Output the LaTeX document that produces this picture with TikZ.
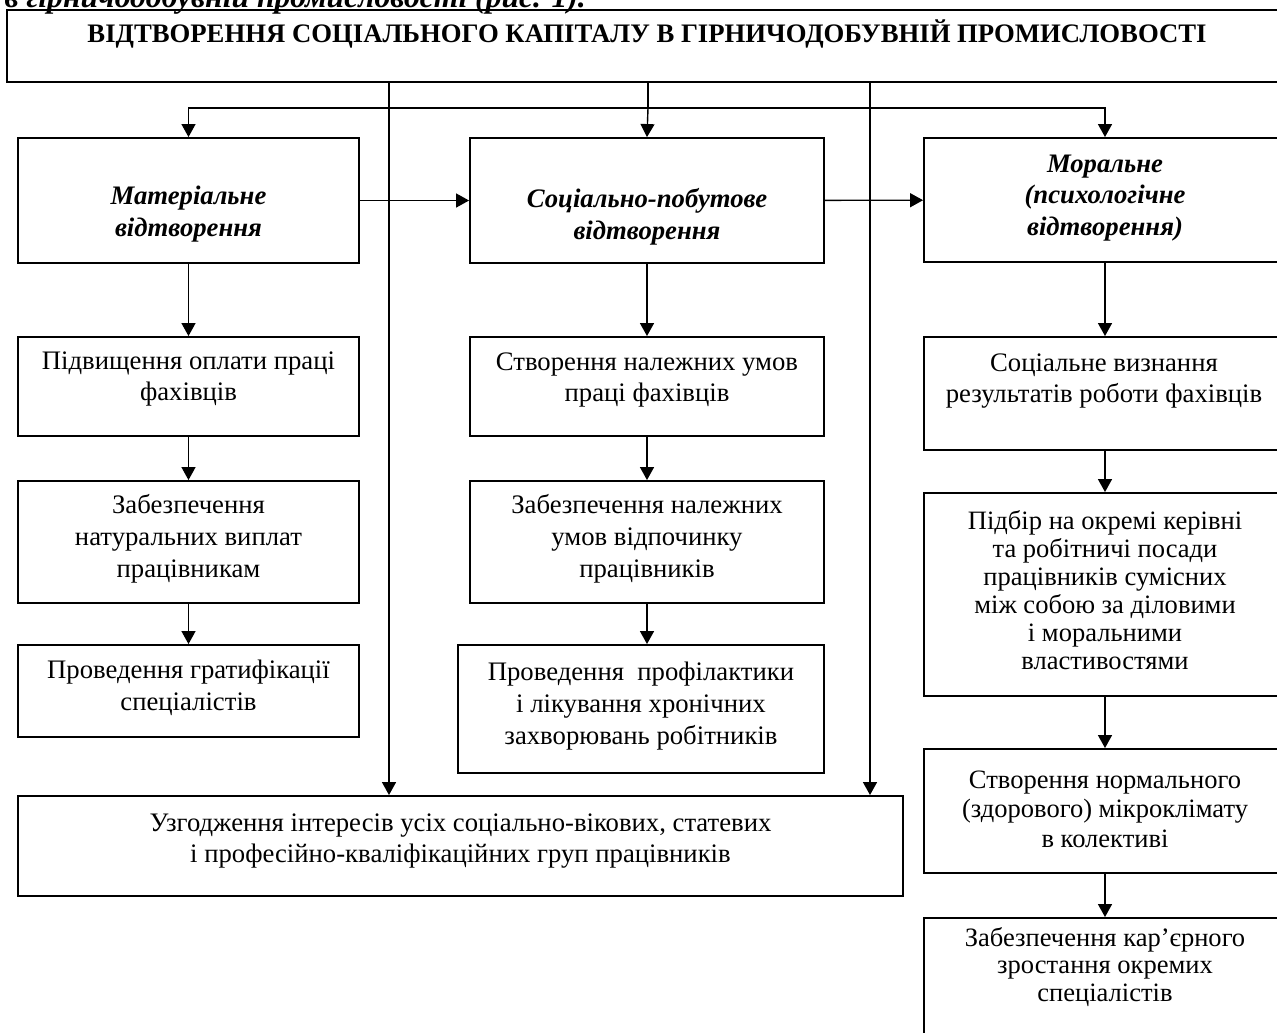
\documentclass[tikz,border=0pt]{standalone}
\usepackage{fontspec}
\setmainfont{Liberation Serif}
\usetikzlibrary{arrows.meta}

\begin{document}
\begin{tikzpicture}[
            x = 0.02cm, y = -0.02cm, % one unit = one pixel of the scan
            > = {Triangle[length=0.26cm,width=0.28cm]}, % arrow head style
            line width = 0.8pt, % connector lines
            box/.style = {shape=rectangle, draw=black, line width=1.1pt, inner sep=0pt},
            txt/.style = {align=center, inner sep=0pt, font=\fontsize{15.2}{18.1}\selectfont},
            head/.style = {align=center, inner sep=0pt, font=\fontsize{15.2}{18.1}\selectfont\bfseries\itshape}
        ]
\useasboundingbox (0,0) rectangle (1277,1032);
\clip (0,0) rectangle (1277,1032);

% caption line cut by the scan
\node[anchor=base west, inner sep=0pt, font=\fontsize{18}{20}\selectfont\bfseries\itshape] (cap) at (4,7) {в гірничодобувній промисловості (рис. 1).};

% top
\node[box, minimum width=25.64cm, minimum height=1.44cm] (top) at (648,46) {};
\node[inner sep=0pt, font=\fontsize{15.2}{18}\selectfont\bfseries] (title) at (647,34) {ВІДТВОРЕННЯ СОЦІАЛЬНОГО КАПІТАЛУ В ГІРНИЧОДОБУВНІЙ ПРОМИСЛОВОСТІ};

% first row
\node[box, minimum width=6.82cm, minimum height=2.5cm] (mat) at (188.5,200.5) {};
\node[head] (matT) at (188.5,214) {Матеріальне\\відтворення};
\node[box, minimum width=7.08cm, minimum height=2.5cm] (soc) at (647,200.5) {};
\node[head] (socT) at (647,217) {Соціально-побутове\\відтворення};
\node[box, minimum width=7.24cm, minimum height=2.48cm] (moral) at (1105,200) {};
\node[head] (moralT) at (1105,198) {Моральне\\(психологічне\\відтворення)};

% left column
\node[box, minimum width=6.82cm, minimum height=1.98cm] (pidv) at (188.5,386.5) {};
\node[txt] (pidvT) at (188.5,379) {Підвищення оплати праці\\фахівців};
\node[box, minimum width=6.82cm, minimum height=2.44cm] (zabnat) at (188.5,542) {};
\node[txt] (zabnatT) at (188.5,539) {Забезпечення\\натуральних виплат\\працівникам};
\node[box, minimum width=6.82cm, minimum height=1.84cm] (grat) at (188.5,691) {};
\node[txt] (gratT) at (188.5,688) {Проведення гратифікації\\спеціалістів};

% middle column
\node[box, minimum width=7.08cm, minimum height=1.98cm] (stvpr) at (647,386.5) {};
\node[txt] (stvprT) at (647,380) {Створення належних умов\\праці фахівців};
\node[box, minimum width=7.08cm, minimum height=2.44cm] (zabvid) at (647,542) {};
\node[txt] (zabvidT) at (647,539) {Забезпечення належних\\умов відпочинку\\працівників};
\node[box, minimum width=7.32cm, minimum height=2.56cm] (prof) at (641,709) {};
\node[txt] (profT) at (641,706) {Проведення~ профілактики\\і лікування хронічних\\захворювань робітників};

% right column
\node[box, minimum width=7.24cm, minimum height=2.26cm] (vyzn) at (1105,393.5) {};
\node[txt] (vyznT) at (1104,381) {Соціальне визнання\\результатів роботи фахівців};
\node[box, minimum width=7.24cm, minimum height=4.06cm] (pidbir) at (1105,594.5) {};
\node[txt, font=\fontsize{15.1}{15.9}\selectfont] (pidbirT) at (1105,590) {Підбір на окремі керівні\\та робітничі посади\\працівників сумісних\\між собою за діловими\\і моральними\\властивостями};
\node[box, minimum width=7.24cm, minimum height=2.48cm] (mikro) at (1105,811) {};
\node[txt, font=\fontsize{15.1}{16.7}\selectfont] (mikroT) at (1105,809) {Створення нормального\\(здорового) мікроклімату\\в колективі};
\node[box, minimum width=7.24cm, minimum height=2.54cm] (kar) at (1105,981.5) {};
\node[txt, font=\fontsize{15.1}{15.9}\selectfont] (karT) at (1105,967) {Забезпечення кар’єрного\\зростання окремих\\спеціалістів};

% bottom
\node[box, minimum width=17.7cm, minimum height=2cm] (agree) at (460.5,846) {};
\node[txt] (agreeT) at (460.5,841) {Узгодження інтересів усіх соціально-вікових, статевих\\і професійно-кваліфікаційних груп працівників};

% links
\coordinate (split) at (648,108);
\coordinate (lline) at (389,82);
\coordinate (rline) at (870,82);
\draw (top.south) -- (split);
\draw[->] (split) -| (mat.north);
\draw[->] (split) -| (moral.north);
\draw[->] (split) -- (soc.north);
\draw[->] (lline) -- (lline |- agree.north);
\draw[->] (rline) -- (rline |- agree.north);

\path [->] (mat) edge (soc);
\path [->] (soc) edge (moral);

\path [->] (mat) edge (pidv);
\path [->] (pidv) edge (zabnat);
\path [->] (zabnat) edge (grat);

\path [->] (soc) edge (stvpr);
\path [->] (stvpr) edge (zabvid);
\draw[->] (zabvid.south) -- (zabvid.south |- prof.north);

\path [->] (moral) edge (vyzn);
\path [->] (vyzn) edge (pidbir);
\path [->] (pidbir) edge (mikro);
\path [->] (mikro) edge (kar);
\end{tikzpicture}
\end{document}
